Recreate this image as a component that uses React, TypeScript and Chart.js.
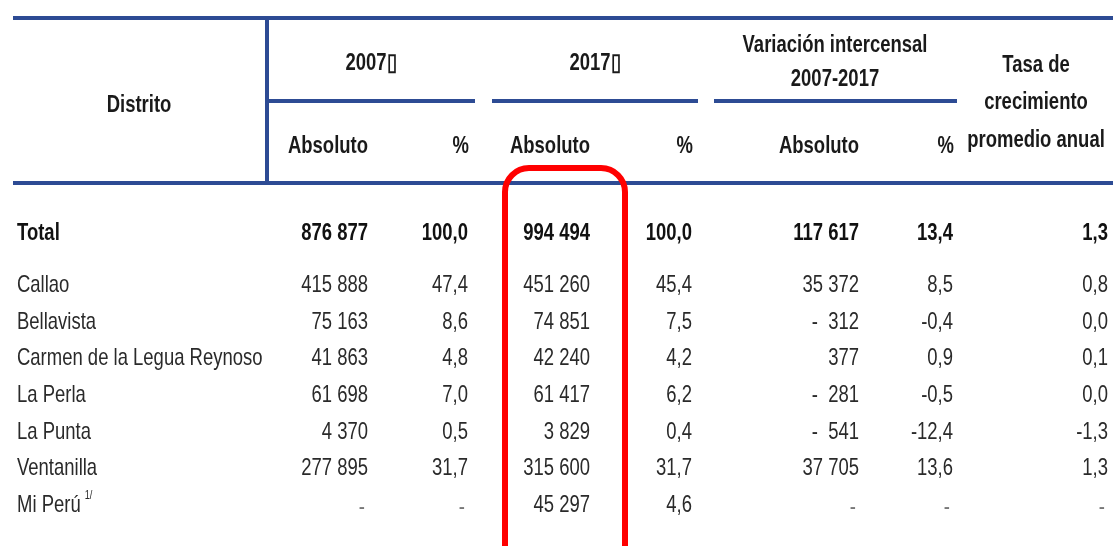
import { useEffect, useRef } from "react";
import { Chart, registerables } from "chart.js";

Chart.register(...registerables);

// ---------- DATA ----------
const districts = [
  "Total",
  "Callao",
  "Bellavista",
  "Carmen de la Legua Reynoso",
  "La Perla",
  "La Punta",
  "Ventanilla",
  "Mi Perú",
];
const abs2007: (number | null)[] = [876877, 415888, 75163, 41863, 61698, 4370, 277895, null];
const pct2007: (number | null)[] = [100.0, 47.4, 8.6, 4.8, 7.0, 0.5, 31.7, null];
const abs2017: (number | null)[] = [994494, 451260, 74851, 42240, 61417, 3829, 315600, 45297];
const pct2017: (number | null)[] = [100.0, 45.4, 7.5, 4.2, 6.2, 0.4, 31.7, 4.6];
const varAbs: (number | null)[] = [117617, 35372, -312, 377, -281, -541, 37705, null];
const varPct: (number | null)[] = [13.4, 8.5, -0.4, 0.9, -0.5, -12.4, 13.6, null];
const tasa: (number | null)[] = [1.3, 0.8, 0.0, 0.1, 0.0, -1.3, 1.3, null];

const groupHeaders = ["2007\u25AF", "2017\u25AF", "Variación intercensal", "2007-2017"];
const subHeaders = ["Absoluto", "%", "Absoluto", "%", "Absoluto", "%"];
const firstHeader = "Distrito";
const tasaHeader = ["Tasa de", "crecimiento", "promedio anual"];
const footnoteMark = "1/";

// ---------- LAYOUT (page units = pixels of the 1113x546 picture) ----------
const W = 1113;
const H = 546;
const nameX = 17;
const colRight = [368, 468, 590, 692, 859, 953, 1108];
const rowY = [233, 285, 322, 358, 395, 432, 468, 505];

const FONT = '"Liberation Sans", Arial, sans-serif';
const SX = 0.77; // horizontal condensing to mimic a narrow face
const BLUE = "#2d4b94";
const RED = "#ff0000";
const TEXT = "#2a2a2a";

function fmtInt(n: number): string {
  const s = Math.abs(Math.round(n)).toString();
  const parts: string[] = [];
  for (let i = s.length; i > 0; i -= 3) parts.unshift(s.slice(Math.max(0, i - 3), i));
  return parts.join(" ");
}
function fmtAbs(n: number | null): string {
  if (n === null) return "-";
  return n < 0 ? "-  " + fmtInt(n) : fmtInt(n);
}
function fmtPct(n: number | null): string {
  if (n === null) return "-";
  return n.toFixed(1).replace(".", ",");
}

const columns: { values: (number | null)[]; fmt: (n: number | null) => string }[] = [
  { values: abs2007, fmt: fmtAbs },
  { values: pct2007, fmt: fmtPct },
  { values: abs2017, fmt: fmtAbs },
  { values: pct2017, fmt: fmtPct },
  { values: varAbs, fmt: fmtAbs },
  { values: varPct, fmt: fmtPct },
  { values: tasa, fmt: fmtPct },
];

function drawText(
  ctx: CanvasRenderingContext2D,
  text: string,
  x: number,
  y: number,
  align: CanvasTextAlign
): number {
  ctx.save();
  ctx.translate(x, y);
  ctx.scale(SX, 1);
  ctx.textAlign = align;
  ctx.textBaseline = "middle";
  ctx.fillText(text, 0, 0);
  const w = ctx.measureText(text).width * SX;
  ctx.restore();
  return w;
}

const tablePlugin = {
  id: "tablePlugin",
  afterDraw(chart: any) {
    const ctx: CanvasRenderingContext2D = chart.ctx;
    const xs = chart.scales.x;
    const ys = chart.scales.y;
    const px = (v: number) => xs.getPixelForValue(v);
    const py = (v: number) => ys.getPixelForValue(v);

    ctx.save();
    // header rules
    ctx.strokeStyle = BLUE;
    ctx.lineWidth = 4;
    const hline = (x1: number, x2: number, y: number) => {
      ctx.beginPath();
      ctx.moveTo(px(x1), py(y));
      ctx.lineTo(px(x2), py(y));
      ctx.stroke();
    };
    hline(13, W, 18);
    hline(13, W, 183);
    hline(267, 475, 101);
    hline(492, 698, 101);
    hline(714, 957, 101);
    ctx.beginPath();
    ctx.moveTo(px(267), py(18));
    ctx.lineTo(px(267), py(183));
    ctx.stroke();

    // header text
    ctx.fillStyle = "#1a1a1a";
    ctx.font = `bold 24px ${FONT}`;
    drawText(ctx, firstHeader, px(139), py(105), "center");
    drawText(ctx, groupHeaders[0], px(371), py(63), "center");
    drawText(ctx, groupHeaders[1], px(595), py(63), "center");
    drawText(ctx, groupHeaders[2], px(835), py(45), "center");
    drawText(ctx, groupHeaders[3], px(835), py(79), "center");
    drawText(ctx, tasaHeader[0], px(1036), py(65), "center");
    drawText(ctx, tasaHeader[1], px(1036), py(102), "center");
    drawText(ctx, tasaHeader[2], px(1036), py(140), "center");
    subHeaders.forEach((t, i) => {
      drawText(ctx, t, px(colRight[i] + (t === "%" ? 1 : 0)), py(146), "right");
    });

    // body cells from dataset points
    chart.data.datasets.forEach((ds: any, di: number) => {
      const meta = chart.getDatasetMeta(di);
      meta.data.forEach((pt: any, ri: number) => {
        const bold = ri === 0;
        ctx.fillStyle = bold ? "#111" : TEXT;
        ctx.font = `${bold ? "bold " : ""}24px ${FONT}`;
        if (di === 0) {
          const name = districts[ri];
          const w = drawText(ctx, name, pt.x, pt.y, "left");
          if (ri === districts.length - 1) {
            ctx.font = `12px ${FONT}`;
            drawText(ctx, footnoteMark, pt.x + w + 4, pt.y - 9, "left");
          }
        } else {
          const col = columns[di - 1];
          const v = col.values[ri];
          const txt = col.fmt(v);
          if (v === null) {
            ctx.fillStyle = "#777";
            drawText(ctx, txt, pt.x - 3, pt.y + 2, "right");
          } else {
            drawText(ctx, txt, pt.x, pt.y, "right");
          }
        }
      });
    });

    // red highlight box
    ctx.strokeStyle = RED;
    ctx.lineWidth = 6;
    ctx.beginPath();
    const l = px(505), r = px(625), t = py(168), b = py(580);
    (ctx as any).roundRect(l, t, r - l, b - t, 24);
    ctx.stroke();
    ctx.restore();
  },
};

export default function App() {
  const ref = useRef<HTMLCanvasElement>(null);
  useEffect(() => {
    document.body.style.margin = "0";
    const datasets = [
      { label: "Distrito", data: rowY.map((y) => ({ x: nameX, y })), pointRadius: 0 },
      ...columns.map((c, i) => ({
        label: "col" + i,
        data: rowY.map((y) => ({ x: colRight[i], y })),
        pointRadius: 0,
      })),
    ];
    const chart = new Chart(ref.current as HTMLCanvasElement, {
      type: "scatter",
      data: { datasets },
      options: {
        animation: false,
        responsive: false,
        maintainAspectRatio: false,
        layout: { padding: 0 },
        plugins: { legend: { display: false }, tooltip: { enabled: false } },
        scales: {
          x: { type: "linear", min: 0, max: W, display: false },
          y: { type: "linear", min: 0, max: H, reverse: true, display: false },
        },
      },
      plugins: [tablePlugin],
    } as any);
    return () => chart.destroy();
  }, []);
  return (
    <div style={{ width: W, height: H, background: "#fff" }}>
      <canvas ref={ref} width={W} height={H} style={{ display: "block" }} />
    </div>
  );
}
